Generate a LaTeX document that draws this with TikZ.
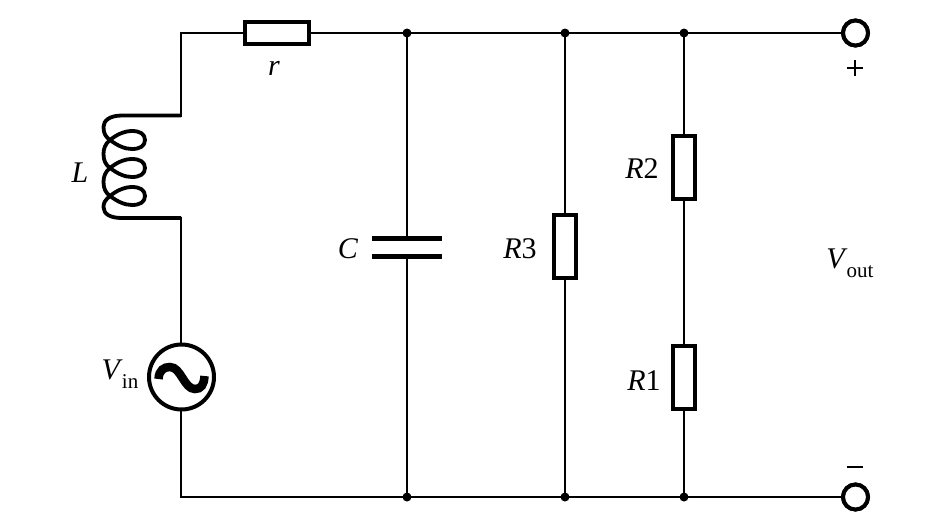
\documentclass[tikz,border=0pt]{standalone}
\usepackage{fontspec}
\setmainfont{Liberation Serif}
\tikzset{
 x=1pt,y=-1pt,
 wire/.style={draw=black,line width=2.8pt,line cap=rect},
 coil/.style={draw=black,line width=3.8pt,line join=round},
 hres/.style={draw=black,fill=white,line width=4pt,rectangle,minimum width=64pt,minimum height=22pt,inner sep=0pt},
 vres/.style={draw=black,fill=white,line width=4pt,rectangle,minimum width=22pt,minimum height=63pt,inner sep=0pt},
 jdot/.style={circle,fill=black,minimum size=9pt,inner sep=0pt,outer sep=0pt},
 term/.style={circle,draw=black,fill=white,line width=4pt,minimum size=25pt,inner sep=0pt},
 src/.style={circle,draw=black,fill=white,line width=4pt,minimum size=65pt,inner sep=0pt},
 plate/.style={draw=black,line width=5pt},
 lab/.style={inner sep=0pt,font=\fontsize{30}{32}\selectfont},
}
\begin{document}
\begin{tikzpicture}
\useasboundingbox (0,0) rectangle (945,531);
\fill[white] (0,0) rectangle (945,531);
% corners and free ends
\coordinate (tl) at (181,33);
\coordinate (bl) at (181,497);
\coordinate (ct) at (181,115.5);
\coordinate (cb) at (181,218);
\coordinate (pa) at (407,236);
\coordinate (pb) at (407,258);
\coordinate (pa1) at (372,238);
\coordinate (pa2) at (442,238);
\coordinate (pb1) at (372,256);
\coordinate (pb2) at (442,256);
% nodes
\node[jdot] (t1) at (407,33) {};
\node[jdot] (t2) at (565,33) {};
\node[jdot] (t3) at (684,33) {};
\node[jdot] (b1) at (407,497) {};
\node[jdot] (b2) at (565,497) {};
\node[jdot] (b3) at (684,497) {};
\node[term] (op) at (855.5,33) {};
\node[term] (om) at (855.5,497) {};
% wires
\draw[wire] (tl) -- (t1) -- (t2) -- (t3) -- (op);
\draw[wire] (bl) -- (b1) -- (b2) -- (b3) -- (om);
\draw[wire] (t1) -- (pa);
\draw[wire] (pb) -- (b1);
\draw[wire] (t2) -- (b2);
\draw[wire] (t3) -- (b3);
\draw[wire] (tl) -- (ct);
\draw[wire] (cb) -- (bl);
% components over wires
\node[term] at (op) {};
\node[term] at (om) {};
\node[hres] (rr) at (276.5,33) {};
\node[vres] (r3) at (565,246.5) {};
\node[vres] (r2) at (683.5,167) {};
\node[vres] (r1) at (683.5,377) {};
\node[src] (vs) at (181.5,377) {};
% capacitor
\draw[plate] (pa1) -- (pa2);
\draw[plate] (pb1) -- (pb2);
% inductor
\draw[coil] (ct) -- (122,115.5)
  .. controls (109,115.5) and (103.5,121) .. (103.5,127)
  .. controls (103.5,134) and (106,137) .. (110,140)
  .. controls (118,146) and (125,149) .. (132,149)
  .. controls (140,149) and (145,146) .. (145,140)
  .. controls (145,134) and (140,131) .. (132,131)
  .. controls (124,131) and (116,135) .. (110,140)
  .. controls (105,144) and (103.5,149) .. (103.5,154)
  .. controls (103.5,161) and (106,165) .. (110,168)
  .. controls (118,174) and (125,177) .. (132,177)
  .. controls (140,177) and (145,174) .. (145,168)
  .. controls (145,162) and (140,159) .. (132,159)
  .. controls (124,159) and (116,163) .. (110,168)
  .. controls (105,172) and (103.5,177) .. (103.5,182)
  .. controls (103.5,189) and (106,193) .. (110,196)
  .. controls (118,202) and (125,205) .. (132,205)
  .. controls (140,205) and (145,202) .. (145,196)
  .. controls (145,190) and (140,187) .. (132,187)
  .. controls (124,187) and (116,191) .. (110,196)
  .. controls (105,200) and (103.5,203) .. (103.5,207)
  .. controls (103.5,214) and (110,218) .. (122,218) -- (cb);
% source tilde
\draw[draw=black,line width=8.5pt] (158.5,379)
  .. controls (159,370) and (164,367) .. (170,367)
  .. controls (181,367) and (184,389) .. (195,389)
  .. controls (201,389) and (204,385) .. (204.5,376);
% labels
\node[lab,anchor=base] (lr) at (274,75) {\itshape r};
\node[lab,anchor=base] (ll) at (80,182) {\itshape L};
\node[lab,anchor=base] (lc) at (348,258) {\itshape C};
\node[lab,anchor=base] (l3) at (520,258) {\textit{R}3};
\node[lab,anchor=base] (l2) at (642,178) {\textit{R}2};
\node[lab,anchor=base] (l1) at (644,390) {\textit{R}1};
\node[lab,anchor=base] (lin) at (120,379) {\textit{V}\kern-1pt\raisebox{-9pt}{\fontsize{21}{22}\selectfont in}};
\node[lab,anchor=base] (lout) at (850,268) {\textit{V}\kern-1pt\raisebox{-9pt}{\fontsize{21}{22}\selectfont out}};
\draw[line width=1.9pt] (847,68) -- (863,68) (855,60) -- (855,76);
\draw[line width=2.6pt] (847,467) -- (863,467);
\end{tikzpicture}
\end{document}
